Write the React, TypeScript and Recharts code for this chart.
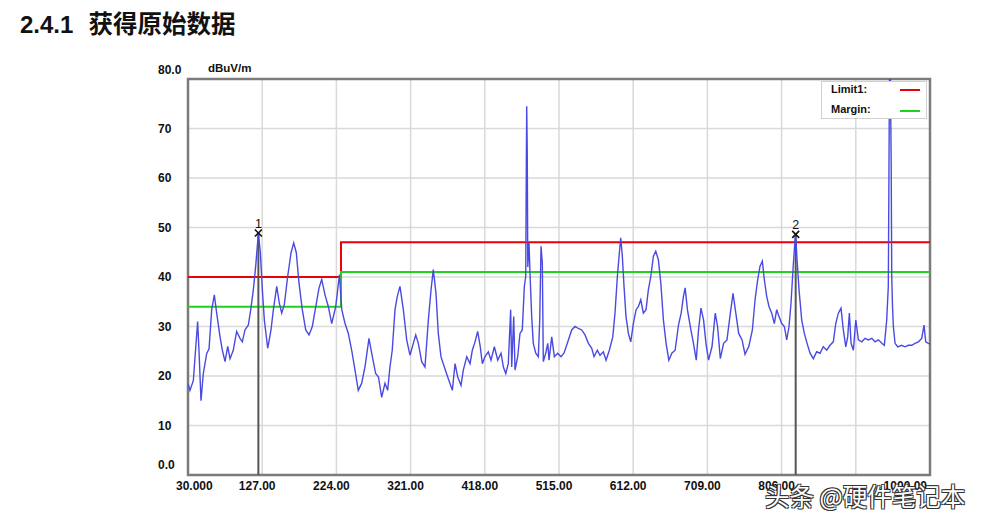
import {
  CartesianGrid,
  Line,
  LineChart,
  ReferenceArea,
  ReferenceDot,
  ReferenceLine,
  XAxis,
  YAxis,
} from "recharts"

// Radiated emission scan, 30 MHz - 1 GHz, dBuV/m
const scanFreq = [
  30, 32.6, 37, 42.6, 44.4, 47, 50, 54.4, 57.5, 61, 64.4, 67.5, 71.8, 74.9, 78.4, 81.9, 84.9, 89.2,
  93.6, 98, 101, 104.5, 108.9, 112, 115.4, 118.5, 122, 124.6, 127.2, 129.8, 134.2, 138.5, 141.6, 146,
  149.4, 152.5, 155.9, 160.3, 164.7, 168.2, 171.6, 175.1, 179.4, 183.9, 188.2, 192.5, 197, 201.3,
  204.8, 209.1, 213.5, 217.9, 223.1, 228, 231, 235.3, 239.6, 244, 248.3, 252.6, 257, 261.4, 266.6,
  270.1, 275.3, 279, 283.2, 287.5, 291, 294, 297, 300.6, 303.6, 307.1, 311.5, 315.9, 320.2, 324.6,
  327.7, 331.1, 335.5, 339.8, 344.2, 347.7, 350.7, 354.2, 357.2, 360.7, 365.1, 369.5, 372.5, 375.6,
  379.1, 382.6, 386.9, 389.9, 394.4, 398.7, 401.7, 405.2, 408.7, 412.1, 414.8, 418.3, 422.6, 426.1,
  430.5, 434.9, 439.2, 442.3, 445.4, 448.7, 451.8, 453.2, 455.8, 457.5, 461, 464, 467, 469.7, 471.5,
  472.3, 472.8, 473.5, 474.2, 475.8, 477.1, 479.3, 481.4, 484.6, 488, 489.8, 491.5, 493.2, 494.5,
  497.6, 500.3, 502, 505.5, 508.9, 513.3, 517.6, 521.5, 525.9, 531.6, 535.9, 540.3, 544.7, 549,
  553.4, 557.8, 560.8, 565.1, 568.6, 573, 576.5, 580.8, 585.3, 588.2, 591.3, 593.9, 595.7, 597.8,
  600, 602.6, 605.7, 608.8, 612.2, 615.8, 618.7, 621.9, 625.3, 628.8, 631.8, 635, 638.4, 641.5,
  644.9, 648.1, 651.5, 655, 658.6, 662.5, 666.8, 671.2, 674.7, 677.7, 679.9, 682.9, 687.4, 690.8,
  694.4, 697.4, 700.6, 704, 707.1, 710.5, 715, 719.3, 722.3, 725.9, 730.2, 734.6, 739, 742.5, 745.5,
  749.9, 754.3, 758.2, 763.2, 767.8, 771.3, 774.8, 777.8, 780.8, 783.4, 786.5, 789.6, 793.1, 796.5,
  799.6, 802.6, 806.2, 809.6, 812.7, 815.7, 818.3, 820.9, 823.6, 824.4, 826.2, 828.8, 832.3, 835.7,
  839.3, 843.2, 847.5, 851.9, 856.2, 860.5, 865, 869.3, 873.6, 876.8, 880.2, 883.7, 886.7, 889.9,
  892.4, 894.6, 896.8, 899.8, 903, 906.4, 910.8, 915.1, 919.4, 923.9, 928.2, 932.5, 937, 940.3,
  943.4, 945.5, 946.3, 947, 948.3, 949.2, 950, 951, 952.1, 954.3, 957.8, 963, 967.3, 971.7, 976.1,
  980.5, 984.8, 989.2, 992.2, 994.4, 997.8, 1000,
]
const scanLevel = [
  18.5, 17.1, 19.1, 31, 25, 15, 20.5, 24.5, 25.5, 33.4, 36.4, 32.7, 28, 25.2, 22.9, 26, 23.5, 25.2,
  29, 27.6, 26.9, 29.3, 30.3, 33.4, 37.4, 42.2, 48.9, 44.9, 37.4, 31.3, 25.6, 29.3, 33.4, 38.1,
  34.7, 32.7, 34.4, 40.1, 44.9, 46.9, 44.9, 38.8, 33.4, 29.3, 28.3, 30, 34, 37.8,
  39.5, 36.4, 34, 30.6, 34, 40.5, 33.4, 30.6, 28.6, 25.2, 21.2, 17.1, 18.5, 21.9, 27.6,
  24.6, 20.5, 19.8, 15.7, 18.5, 17.1, 21.8, 25.2, 33.4, 36.1, 38.1, 33.4, 27.3, 24.2, 26.6,
  28.3, 26.6, 22.9, 21.8, 31.3, 37.4, 41.5, 36.7, 28.6, 23.9, 21.8, 19.8, 18.5, 17.1,
  22.5, 19.8, 18.1, 21.2, 23.9, 22.5, 25.2, 26.9, 29, 25.9, 22.5, 23.9, 24.9, 23.2,
  25.9, 23.2, 24.6, 21.8, 20.5, 22.5, 33.4, 21.8, 32, 21.2, 23.9, 28.6, 29.3, 38.1, 40.1,
  63, 74.5, 65, 42, 46.9, 40.8, 32, 26.6, 24.6, 23.9, 31.3, 46.2, 42.8, 22.9,
  24.6, 26.6, 23.2, 27.9, 23.9, 24.6, 23.9, 24.6, 26.6, 29.3, 30, 29.6, 29.3, 28.3,
  26.6, 25.6, 23.9, 25.2, 24.2, 24.9, 23.2, 25.2, 27.9, 32.7, 40.1, 44.9, 47.9, 44.2,
  38.1, 32, 28.6, 26.9, 30.6, 33.4, 34, 35.4, 32.7, 33.4, 37.4, 40.1, 44.2, 45.2,
  43.5, 38.8, 31.3, 26.6, 23.2, 24.6, 25.2, 30.3, 32.7, 36.1, 37.8, 33.4, 29.3, 26.6,
  23.2, 29.3, 33.7, 31.3, 26.6, 23.2, 25.9, 32.7, 30, 23.5, 26.6, 27.3, 32.7, 36.7, 33.4,
  28.6, 27.3, 24.4, 26, 29.3, 35.4, 39.5, 42.2, 43.2, 39.5, 36.1, 34, 32.7, 30.6,
  33.4, 32, 30.6, 30, 27.3, 30, 34.7, 41.5, 47.6, 48.6, 43.5, 37.4, 31.3, 28.6,
  26.6, 24.6, 23.5, 24.9, 24.6, 25.9, 25.2, 26.2, 26.9, 30.6, 32.7, 33.7, 29.3, 25.9,
  27.9, 32.7, 26.6, 25.2, 31.3, 27.3, 26.9, 27.6, 27.3, 27.6, 26.9, 27.3, 26.6, 26.2,
  31.3, 38.1, 60, 80, 80, 64, 40, 34, 30, 26.6, 25.9, 26.2, 25.9, 26.2, 26.2,
  26.6, 26.9, 27.6, 30.3, 26.9, 26.6, 26.5,
]

// EN55022 class B style limit, margin 6 dB below
const limitFreq = [30, 230, 230, 1000]
const limitLevel = [40, 40, 47, 47]
const marginLevel = [34, 34, 41, 41]

const markerNo = ["1", "2"]
const markerFreq = [122, 824.4]
const markerLevel = [48.9, 48.6]

const xTicks = [30, 127, 224, 321, 418, 515, 612, 709, 806, 903, 1000]
const xTickLabels = ["30.000", "127.00", "224.00", "321.00", "418.00", "515.00", "612.00", "709.00", "806.00", "", "1000.00"]
const yTicks = [0, 10, 20, 30, 40, 50, 60, 70, 80]
const yTickLabels = ["0.0", "10", "20", "30", "40", "50", "60", "70", "80.0"]

const scanData = scanFreq.map((f, i) => ({ f, v: scanLevel[i] }))
const limitData = limitFreq.map((f, i) => ({ f, v: limitLevel[i] }))
const marginData = limitFreq.map((f, i) => ({ f, v: marginLevel[i] }))

const FONT = '"Liberation Sans", Arial, sans-serif'
const TRACE = "#4a4ae2"
const RED = "#e8000b"
const GREEN = "#1ed21e"
const BORDER = "#7b7b7b"

function XTick(props: any) {
  const i = xTicks.indexOf(props.payload.value)
  const label = xTickLabels[i]
  if (!label) return null
  let anchor: "start" | "middle" | "end" = "middle"
  let x = props.x - 5
  if (i === 0) {
    anchor = "start"
    x = props.x - 12
  } else if (i === xTicks.length - 1) {
    anchor = "end"
    x = props.x - 3
  }
  return (
    <text x={x} y={490} textAnchor={anchor} fontSize={12} fontWeight="bold" fontFamily={FONT} fill="#111">
      {label}
    </text>
  )
}

function YTick(props: any) {
  const i = yTicks.indexOf(props.payload.value)
  let dy = 4
  if (i === 0) dy = -6
  if (i === yTicks.length - 1) dy = -5
  return (
    <text x={158} y={props.y + dy} textAnchor="start" fontSize={12} fontWeight="bold" fontFamily={FONT} fill="#111">
      {yTickLabels[i]}
    </text>
  )
}

function MarkerShape({ cx, cy, n }: { cx?: number; cy?: number; n: string }) {
  if (cx == null || cy == null) return null
  return (
    <g>
      <line x1={cx - 3.5} y1={cy - 3.5} x2={cx + 3.5} y2={cy + 3.5} stroke="#111" strokeWidth={1.6} />
      <line x1={cx - 3.5} y1={cy + 3.5} x2={cx + 3.5} y2={cy - 3.5} stroke="#111" strokeWidth={1.6} />
      <text x={cx} y={cy - 5} textAnchor="middle" fontSize={12.5} fontFamily={FONT} fill="#111">
        {n}
      </text>
    </g>
  )
}

export default function App() {
  return (
    <div style={{ position: "absolute", left: 0, top: 0, width: 988, height: 524, background: "#fff", overflow: "hidden" }}>
      <div
        style={{
          position: "absolute",
          left: 20,
          top: 9,
          fontSize: 24,
          lineHeight: "28px",
          fontWeight: "bold",
          fontFamily: FONT,
          color: "#111",
          whiteSpace: "nowrap",
        }}
      >
        2.4.1
        <span style={{ marginLeft: 15, fontSize: 24.5, fontFamily: '"Noto Sans CJK SC", sans-serif' }}>获得原始数据</span>
      </div>

      <div style={{ position: "absolute", left: 0, top: 0 }}>
        <LineChart width={988} height={524} margin={{ top: 79, right: 58, bottom: 19, left: 158 }}>
          <CartesianGrid stroke="#d9d9d9" strokeWidth={1.5} />
          <XAxis
            type="number"
            dataKey="f"
            domain={[30, 1000]}
            ticks={xTicks}
            height={30}
            tickLine={false}
            axisLine={false}
            tick={<XTick />}
            allowDataOverflow
          />
          <YAxis
            type="number"
            dataKey="v"
            domain={[0, 80]}
            ticks={yTicks}
            width={30}
            tickLine={false}
            axisLine={false}
            tick={<YTick />}
            allowDataOverflow
          />
          <Line data={limitData} dataKey="v" type="linear" stroke={RED} strokeWidth={2} dot={false} isAnimationActive={false} />
          <Line data={marginData} dataKey="v" type="linear" stroke={GREEN} strokeWidth={2} dot={false} isAnimationActive={false} />
          {markerFreq.map((f, i) => (
            <ReferenceLine
              key={`ml${i}`}
              segment={[
                { x: f, y: 0 },
                { x: f, y: markerLevel[i] },
              ]}
              stroke="#555"
              strokeWidth={2}
            />
          ))}
          <Line data={scanData} dataKey="v" type="linear" stroke={TRACE} strokeWidth={1.4} dot={false} isAnimationActive={false} />
          {markerFreq.map((f, i) => (
            <ReferenceDot key={`md${i}`} x={f} y={markerLevel[i]} shape={(p: any) => <MarkerShape cx={p.cx} cy={p.cy} n={markerNo[i]} />} />
          ))}
          <ReferenceArea x1={30} x2={1000} y1={0} y2={80} fill="none" stroke={BORDER} strokeWidth={2.5} />
        </LineChart>
      </div>

      {/* unit */}
      <div style={{ position: "absolute", left: 208, top: 62, fontSize: 11.5, fontWeight: "bold", fontFamily: FONT, color: "#111" }}>
        dBuV/m
      </div>

      {/* legend box */}
      <div
        style={{
          position: "absolute",
          left: 821,
          top: 81,
          width: 104,
          height: 36,
          border: "1px solid #d0d0d0",
          background: "#fff",
          fontSize: 11,
          fontWeight: "bold",
          fontFamily: FONT,
          color: "#111",
        }}
      >
        <div style={{ position: "absolute", left: 9, top: 1 }}>Limit1:</div>
        <div style={{ position: "absolute", left: 78, top: 7, width: 20, height: 2, background: RED }} />
        <div style={{ position: "absolute", left: 9, top: 21 }}>Margin:</div>
        <div style={{ position: "absolute", left: 78, top: 28, width: 20, height: 2, background: GREEN }} />
      </div>

      {/* watermark */}
      <div
        style={{
          position: "absolute",
          left: 765,
          top: 478,
          fontSize: 24.5,
          fontFamily: '"Noto Sans CJK SC", sans-serif',
          color: "#fff",
          whiteSpace: "nowrap",
          textShadow: "1px 1px 0 #333, -1px -1px 0 #333, 1px -1px 0 #333, -1px 1px 0 #333",
        }}
      >
        头条 @硬件笔记本
      </div>
    </div>
  )
}
